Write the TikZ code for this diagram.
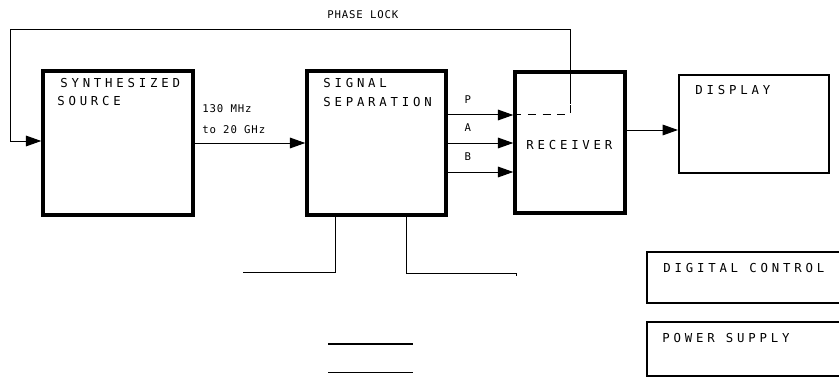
\documentclass[tikz,border=0pt]{standalone}
\usepackage{fontspec}
\newfontfamily\plotfont{DejaVu Sans Mono}[LetterSpace=31]
\newfontfamily\plotsmall{DejaVu Sans Mono}[LetterSpace=8]
\usepackage{tikz}
\usetikzlibrary{positioning, arrows.meta}
\tikzset{
	blk/.style 2 args={
			draw=black,
			line width=2.6pt,
			minimum width=#1*0.75pt,
			minimum height=#2*0.75pt,
			inner sep=0pt
		},
	thinblk/.style 2 args={
			blk={#1}{#2},
			line width=1.6pt
		},
	lbl/.style={
			font=\plotfont\fontsize{9.25}{11}\selectfont,
			anchor=base west,
			inner sep=0pt
		},
	sml/.style={
			font=\plotsmall\fontsize{8}{9}\selectfont,
			anchor=base west,
			inner sep=0pt
		},
	wire/.style={
			line width=0.75pt
		},
	arr/.style={
			wire,
			-{Triangle[length=11.5pt,width=8pt]}
		}
}
\begin{document}
\begin{tikzpicture}[x=0.75pt, y=-0.75pt]
\useasboundingbox (0,0) rectangle (839,378);
\clip (0,0) rectangle (839,378);
    \node[blk={150}{144}] (src) at (118,143) {};
    \node[blk={139}{144}] (sep) at (376.5,143) {};
    \node[blk={110}{141}] (rcv) at (570,142.5) {};
    \node[thinblk={150}{98}] (disp) at (754,124) {};
    \node[thinblk={203}{51}] (dig) at (748.5,277.5) {};
    \node[thinblk={203}{54}] (pwr) at (748.5,349) {};

    \node[lbl] (srct) at (60,87.5) {SYNTHESIZED};
    \node[lbl] (srcb) at (57,105.5) {SOURCE};
    \node[lbl] (sept) at (323,87.5) {SIGNAL};
    \node[lbl] (sepb) at (323,106.5) {SEPARATION};
    \node[lbl] (rcvt) at (526,149.5) {RECEIVER};
    \node[lbl] (dispt) at (695,94.5) {DISPLAY};
    \node[lbl] (digt) at (663,272.5) {DIGITAL CONTROL};
    \node[lbl] (pwrt) at (662,342.5) {POWER SUPPLY};
    \node[sml] (plt) at (327,19) {PHASE LOCK};
    \node[sml] (frqt) at (202,113) {130 MHz};
    \node[sml] (frqb) at (202,133) {to 20 GHz};

    % phase lock loop back to the source
    \coordinate (pltap) at (570,104);
    \draw[wire, dash pattern=on 6pt off 5pt] (rcv.west |- 0,115) -- (570,115) -- (pltap);
    \draw[arr] (pltap) -- (570,30) -| (10,141) -- (src.west |- 0,141);

    \draw[arr] (src.east) -- (sep.west);
    \foreach \y/\t in {115/P, 143/A, 172/B}
        \draw[arr] (sep.east |- 0,\y) -- (rcv.west |- 0,\y)
            node[sml, pos=0.25, yshift=8.6pt] {\t};
    \draw[arr] (rcv.east |- 0,130) -- (disp.west |- 0,130);

    % lines below the separation box
    \coordinate (outl) at (243,272);
    \coordinate (outr) at (516,273);
    \draw[wire] (sep.south -| 335,0) |- (outl);
    \draw[wire] (sep.south -| 406,0) |- (outr) -- ++(0,3);

    \coordinate (ba) at (328,344);
    \coordinate (bb) at (413,344);
    \coordinate (bc) at (328,372);
    \coordinate (bd) at (413,372);
    \draw[line width=1.3pt] (ba) -- (bb);
    \draw[wire] (bc) -- (bd);
\end{tikzpicture}
\end{document}
